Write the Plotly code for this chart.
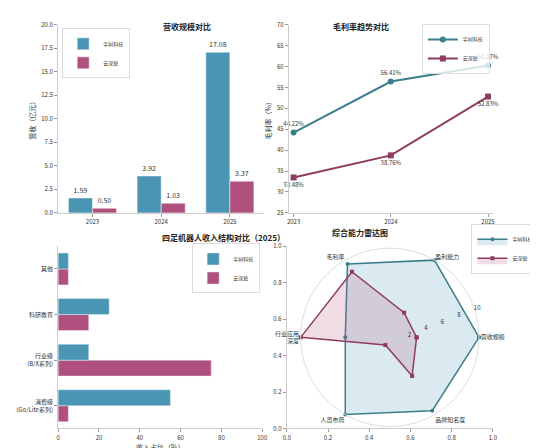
import plotly.graph_objects as go

years = ["2023", "2024", "2025"]
rev_yushu = [1.59, 3.92, 17.08]
rev_yun = [0.50, 1.03, 3.37]
gm_yushu = [44.22, 56.41, 60.27]
gm_yun = [33.48, 38.76, 52.83]
seg_cats = ["消费级<br>(Go/Lite系列)", "行业级<br>(B/X系列)", "科研教育", "其他"]
seg_yushu = [55, 15, 25, 5]
seg_yun = [5, 75, 15, 5]
radar_cats = ["营收规模", "盈利能力", "毛利率", "行业应用<br>深度", "人员布局", "品牌知名度"]
radar_yushu = [10, 10, 9.5, 5, 10, 9.5]
radar_yun = [3, 3.2, 8.5, 10, 1, 5]

C1 = "#4a94b4"; C2 = "#b0507e"
L1 = "#3b7f8c"; L2 = "#8e3d60"
F = "Noto Sans CJK SC"
W, H = 538, 448
def dx(a, b): return [a / W, b / W]
def dy(top, bot): return [1 - bot / H, 1 - top / H]

fig = go.Figure()
fig.add_trace(go.Bar(x=years, y=rev_yushu, name="宇树科技", marker=dict(color=C1, line=dict(color="white", width=0.5)),
                     text=[f"{v:.2f}" for v in rev_yushu], textposition="outside", cliponaxis=False,
                     textfont=dict(size=7), xaxis="x", yaxis="y", legend="legend"))
fig.add_trace(go.Bar(x=years, y=rev_yun, name="云深处", marker=dict(color=C2, line=dict(color="white", width=0.5)),
                     text=[f"{v:.2f}" for v in rev_yun], textposition="outside", cliponaxis=False,
                     textfont=dict(size=7), xaxis="x", yaxis="y", legend="legend"))
fig.add_trace(go.Scatter(x=years, y=gm_yushu, name="宇树科技", mode="lines+markers+text",
                         line=dict(color=L1, width=2), marker=dict(size=6, symbol="circle"),
                         text=[f"{v:.2f}%" for v in gm_yushu], textposition="top center", cliponaxis=False,
                         textfont=dict(size=6), xaxis="x2", yaxis="y2", legend="legend2"))
fig.add_trace(go.Scatter(x=years, y=gm_yun, name="云深处", mode="lines+markers+text",
                         line=dict(color=L2, width=2), marker=dict(size=6, symbol="square"),
                         text=[f"{v:.2f}%" for v in gm_yun], textposition="bottom center", cliponaxis=False,
                         textfont=dict(size=6), xaxis="x2", yaxis="y2", legend="legend2"))
fig.add_trace(go.Bar(y=seg_cats, x=seg_yun, name="云深处", orientation="h", marker=dict(color=C2),
                     xaxis="x3", yaxis="y3", legend="legend3", legendrank=2))
fig.add_trace(go.Bar(y=seg_cats, x=seg_yushu, name="宇树科技", orientation="h", marker=dict(color=C1),
                     xaxis="x3", yaxis="y3", legend="legend3", legendrank=1))
fig.add_trace(go.Scatter(x=[None], y=[None], showlegend=False, xaxis="x4", yaxis="y4"))
fig.add_trace(go.Scatterpolar(r=radar_yushu + radar_yushu[:1], theta=radar_cats + radar_cats[:1], name="宇树科技",
                              mode="lines+markers", line=dict(color=L1, width=1.5), marker=dict(size=4),
                              fill="toself", fillcolor="rgba(74,148,180,0.2)", subplot="polar", legend="legend4"))
fig.add_trace(go.Scatterpolar(r=radar_yun + radar_yun[:1], theta=radar_cats + radar_cats[:1], name="云深处",
                              mode="lines+markers", line=dict(color=L2, width=1.5), marker=dict(size=4, symbol="square"),
                              fill="toself", fillcolor="rgba(176,80,126,0.2)", subplot="polar", legend="legend4"))

ax = dict(showline=True, linecolor="#cccccc", ticks="outside", ticklen=3, tickcolor="#999",
          tickfont=dict(size=6), showgrid=False, zeroline=False)
leg = dict(font=dict(size=5), bgcolor="rgba(255,255,255,0.8)", bordercolor="#ddd", borderwidth=1,
           itemwidth=30, tracegroupgap=0)
fig.update_layout(
    width=W, height=H, margin=dict(l=0, r=0, t=0, b=0), plot_bgcolor="white", paper_bgcolor="white",
    font=dict(family=F, size=7, color="#333"), barmode="group", bargap=0.3,
    xaxis=dict(**ax, domain=dx(47, 257), anchor="y"),
    yaxis=dict(**ax, domain=dy(12, 204), anchor="x", range=[0, 20], dtick=2.5, tickformat=".1f",
               title=dict(text="营收（亿元）", font=dict(size=7), standoff=4)),
    xaxis2=dict(**ax, domain=dx(282, 490), anchor="y2", range=[-0.05, 2.05]),
    yaxis2=dict(**ax, domain=dy(12, 204), anchor="x2", range=[25, 70], dtick=5,
                title=dict(text="毛利率（%）", font=dict(size=7), standoff=4)),
    xaxis3=dict(**ax, domain=dx(47, 255), anchor="y3", range=[0, 100], dtick=20,
                title=dict(text="收入占比（%）", font=dict(size=7), standoff=2)),
    yaxis3=dict(**ax, domain=dy(238, 424), anchor="x3"),
    xaxis4=dict(**ax, domain=dx(280, 490), anchor="y4", range=[0, 1], dtick=0.2, tickformat=".1f"),
    yaxis4=dict(**ax, domain=dy(238, 424), anchor="x4", range=[0, 1], dtick=0.2, tickformat=".1f"),
    polar=dict(domain=dict(x=dx(290, 480), y=dy(240, 422)), bgcolor="rgba(0,0,0,0)",
               angularaxis=dict(rotation=0, direction="counterclockwise", tickfont=dict(size=6),
                                showgrid=False, linecolor="#dddddd", showline=True, ticks=""),
               radialaxis=dict(range=[0, 10], tickvals=[2, 4, 6, 8, 10], angle=22, tickangle=22,
                               tickfont=dict(size=6), showline=False, showgrid=False, ticks="")),
    legend=dict(**leg, x=0.095, y=0.965, xanchor="left", yanchor="top"),
    legend2=dict(**leg, x=0.905, y=0.975, xanchor="right", yanchor="top"),
    legend3=dict(**leg, x=0.47, y=0.475, xanchor="right", yanchor="top"),
    legend4=dict(**leg, x=0.999, y=0.52, xanchor="right", yanchor="top"),
    annotations=[
        dict(text="<b>营收规模对比</b>", x=(47 + 257) / 2 / W, y=1 - 6 / H, xref="paper", yref="paper", showarrow=False, font=dict(size=8, color="#222")),
        dict(text="<b>毛利率趋势对比</b>", x=(282 + 490) / 2 / W, y=1 - 6 / H, xref="paper", yref="paper", showarrow=False, font=dict(size=8, color="#222")),
        dict(text="<b>四足机器人收入结构对比（2025）</b>", x=(47 + 255) / 2 / W, y=1 - 229 / H, xref="paper", yref="paper", showarrow=False, font=dict(size=8, color="#222")),
        dict(text="<b>综合能力雷达图</b>", x=(280 + 490) / 2 / W, y=1 - 224 / H, xref="paper", yref="paper", showarrow=False, font=dict(size=8, color="#222")),
    ],
)
fig.write_html("out.html")
